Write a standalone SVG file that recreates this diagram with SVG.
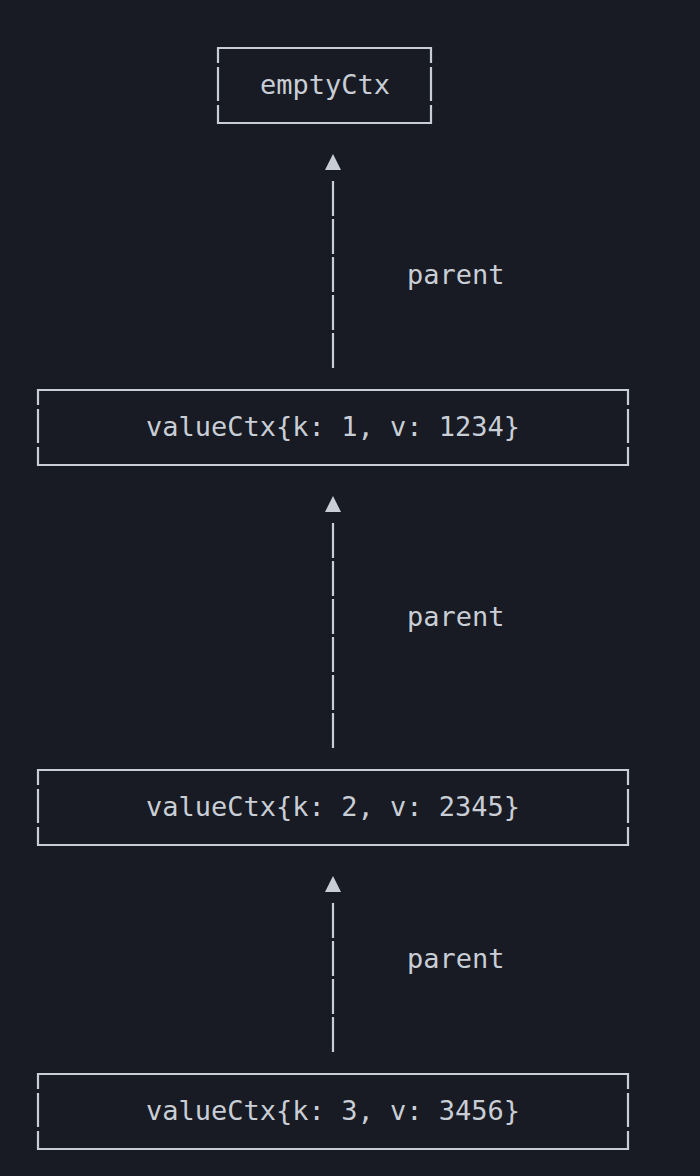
<svg xmlns="http://www.w3.org/2000/svg" width="700" height="1176" viewBox="0 0 700 1176">
<style>
.bg{fill:#181b23}
.ln{stroke:#c9ced6;stroke-width:2.2;fill:none}
.ar{fill:#c9ced6}
.t{font-family:"DejaVu Sans Mono","Liberation Mono",monospace;font-size:27px;fill:#c9ced6}
</style>
<rect class="bg" x="0" y="0" width="700" height="1176"/>
<g id="connectors">
  <g id="c1">
    <polygon class="ar" points="333,154 325,170 341,170"/>
    <path class="ln" d="M333,181V216M333,219V254M333,257V292M333,295V330M333,333V368"/>
    <text class="t" x="407" y="284">parent</text>
  </g>
  <g id="c2">
    <polygon class="ar" points="333,496 325,512 341,512"/>
    <path class="ln" d="M333,523V558M333,561V596M333,599V634M333,637V672M333,675V710M333,713V748"/>
    <text class="t" x="407" y="626">parent</text>
  </g>
  <g id="c3">
    <polygon class="ar" points="333,876 325,892 341,892"/>
    <path class="ln" d="M333,903V938M333,941V976M333,979V1014M333,1017V1052"/>
    <text class="t" x="407" y="968">parent</text>
  </g>
</g>
<g id="emptyCtx">
  <path class="ln" d="M218,63V48H431V63M218,67V101M431,67V101M218,105V123H431V105"/>
  <text class="t" x="325" y="94" text-anchor="middle">emptyCtx</text>
</g>
<g id="valueCtx1">
  <path class="ln" d="M38,405V390H628V405M38,409V443M628,409V443M38,447V465H628V447"/>
  <text class="t" x="333" y="436" text-anchor="middle">valueCtx{k: 1, v: 1234}</text>
</g>
<g id="valueCtx2">
  <path class="ln" d="M38,785V770H628V785M38,789V823M628,789V823M38,827V845H628V827"/>
  <text class="t" x="333" y="816" text-anchor="middle">valueCtx{k: 2, v: 2345}</text>
</g>
<g id="valueCtx3">
  <path class="ln" d="M38,1089V1074H628V1089M38,1093V1127M628,1093V1127M38,1131V1149H628V1131"/>
  <text class="t" x="333" y="1120" text-anchor="middle">valueCtx{k: 3, v: 3456}</text>
</g>
</svg>
